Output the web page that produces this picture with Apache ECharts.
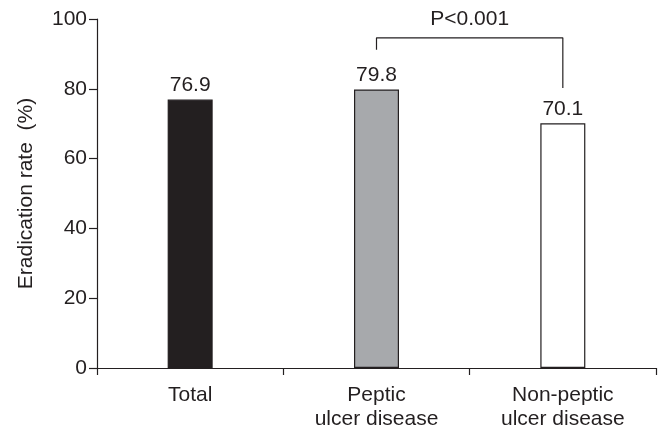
<!DOCTYPE html>
<html><head><meta charset="utf-8">
<script src="https://cdn.jsdelivr.net/npm/echarts@6/dist/echarts.min.js"></script>
<style>html,body{margin:0;padding:0;background:#fff}#c{width:663px;height:431px}</style>
</head><body><div id="c"></div>
<script>
const categories = ['Total', 'Peptic\nulcer disease', 'Non-peptic\nulcer disease'];
const values = [76.9, 79.8, 70.1];
const barColors = ['#231f20', '#a7a9ac', '#ffffff'];
const yTicks = [0, 20, 40, 60, 80, 100];
const bracket = [[1, 91.2], [1, 94.6], [2, 94.6], [2, 80.2]];
const pLabel = 'P<0.001';
const pPos = [1.5, 94.6];

const ink = '#231f20';
const font = 'Liberation Sans, Arial, sans-serif';
const fs = 21;
const chart = echarts.init(document.getElementById('c'));
chart.setOption({
  animation: false,
  grid: { left: 97, right: 7, top: 19, bottom: 61 },
  xAxis: [{
    type: 'category', data: categories,
    axisLine: { lineStyle: { color: ink, width: 1.2 } },
    axisTick: { show: true, length: 7, lineStyle: { color: ink, width: 1.2 } },
    axisLabel: { color: ink, fontSize: fs, fontFamily: font, margin: 15, lineHeight: 24 }
  }, {
    type: 'value', min: -0.5, max: 2.5, show: false
  }],
  yAxis: {
    type: 'value', min: yTicks[0], max: yTicks[yTicks.length - 1], interval: 20,
    name: 'Eradication rate  (%)', nameLocation: 'middle', nameGap: 60,
    nameTextStyle: { color: ink, fontSize: fs, fontFamily: font },
    splitLine: { show: false },
    axisLine: { show: true, onZero: false, lineStyle: { color: ink, width: 1.2 } },
    axisTick: { show: true, length: 8, lineStyle: { color: ink, width: 1.2 } },
    axisLabel: { color: ink, fontSize: fs, fontFamily: font, margin: 10 }
  },
  series: [{
    type: 'bar', barWidth: 45,
    data: values.map((v, i) => ({ value: v, itemStyle: { color: barColors[i] } })),
    itemStyle: { borderColor: ink, borderWidth: 1.2 },
    label: { show: true, position: 'top', distance: 4, color: ink, fontSize: fs, fontFamily: font }
  }, {
    type: 'line', xAxisIndex: 1, data: bracket, symbol: 'none',
    lineStyle: { color: ink, width: 1.2 }, silent: true
  }, {
    type: 'scatter', xAxisIndex: 1, data: [pPos], symbolSize: 0, silent: true,
    itemStyle: { opacity: 1, color: ink },
    label: { show: true, position: 'top', distance: 8, formatter: pLabel, color: ink, fontSize: fs, fontFamily: font }
  }]
});
</script></body></html>
